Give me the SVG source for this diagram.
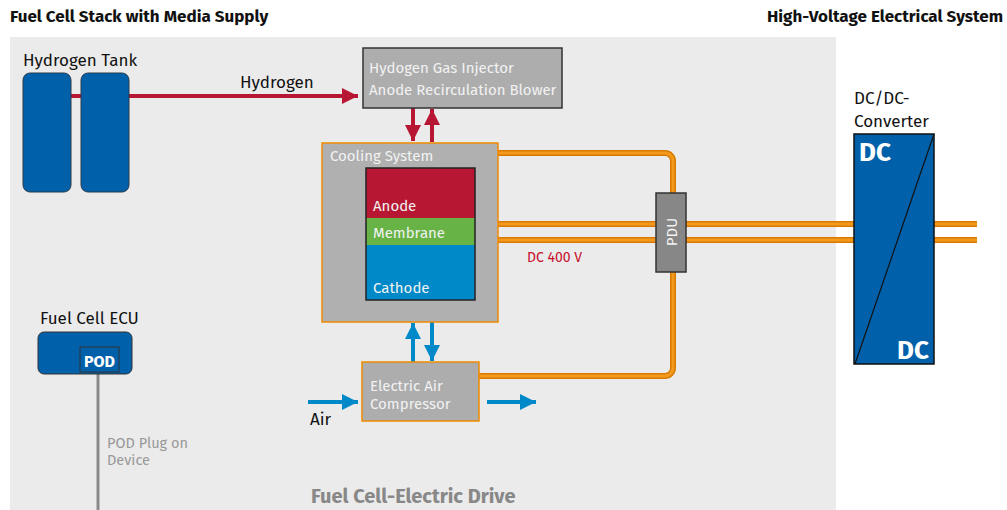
<svg xmlns="http://www.w3.org/2000/svg" width="1007" height="510" viewBox="0 0 1007 510">
<defs>
<style>
text{font-family:"Fira Sans","Open Sans","Noto Sans",sans-serif}
.t{font-size:17px;fill:#111}
.h{font-size:17px;font-weight:bold;fill:#111}
.w{font-size:15px;fill:#f2f2f2}
.pipeo{stroke:#d87a00;stroke-width:6;fill:none}
.pipei{stroke:#f39a1e;stroke-width:3;fill:none}
.red{stroke:#b81733;stroke-width:4;fill:none}
.blue{stroke:#0089c8;stroke-width:4;fill:none}
</style>
<marker id="ar" viewBox="0 0 10 10" refX="10" refY="5" markerWidth="4" markerHeight="4" markerUnits="strokeWidth" orient="auto"><path d="M0,0L10,5L0,10z" fill="#b81733"/></marker>
<marker id="ab" viewBox="0 0 10 10" refX="10" refY="5" markerWidth="4" markerHeight="4" markerUnits="strokeWidth" orient="auto"><path d="M0,0L10,5L0,10z" fill="#0089c8"/></marker>
</defs>
<rect width="1007" height="510" fill="#ffffff"/>
<rect x="10" y="37" width="826" height="473" fill="#ebebeb"/>
<text x="10" y="22" class="h">Fuel Cell Stack with Media Supply</text>
<text x="1003" y="22" class="h" text-anchor="end">High-Voltage Electrical System</text>
<text x="311" y="503" style="font-size:20px;font-weight:bold;fill:#888">Fuel Cell-Electric Drive</text>

<g id="connectors">
<path d="M129,96H358" class="red" marker-end="url(#ar)"/>
<path d="M71,96H81" class="red"/>
<line x1="413" y1="108" x2="413" y2="141" class="red" marker-end="url(#ar)"/>
<line x1="432" y1="142" x2="432" y2="109" class="red" marker-end="url(#ar)"/>
<line x1="413" y1="362" x2="413" y2="323" class="blue" marker-end="url(#ab)"/>
<line x1="432" y1="322" x2="432" y2="361" class="blue" marker-end="url(#ab)"/>
<line x1="308" y1="402" x2="358" y2="402" class="blue" marker-end="url(#ab)"/>
<line x1="487" y1="402" x2="536" y2="402" class="blue" marker-end="url(#ab)"/>
<path d="M498,153H665a8,8 0 0 1 8,8V368a8,8 0 0 1 -8,8H479" class="pipeo"/>
<path d="M498,153H665a8,8 0 0 1 8,8V368a8,8 0 0 1 -8,8H479" class="pipei"/>
<path d="M475,224H977M475,240H977" class="pipeo"/>
<path d="M475,224H977M475,240H977" class="pipei"/>
<line x1="98" y1="374" x2="98" y2="510" stroke="#8a8a8a" stroke-width="3"/>
</g>

<g id="tank">
<text x="23" y="66" class="t">Hydrogen Tank</text>
<rect x="23" y="73" width="48" height="119" rx="7" fill="#0060aa" stroke="#2a3a4a" stroke-width="1"/>
<rect x="81" y="73" width="48" height="119" rx="7" fill="#0060aa" stroke="#2a3a4a" stroke-width="1"/>
</g>
<text x="240" y="88" class="t">Hydrogen</text>

<g id="injector">
<rect x="363" y="48" width="199" height="60" fill="#adadad" stroke="#333" stroke-width="1.5"/>
<text x="369" y="73" class="w">Hydogen Gas Injector</text>
<text x="369" y="95" class="w">Anode Recirculation Blower</text>
</g>

<g id="cooling">
<rect x="322" y="143" width="176" height="179" fill="#b0b0b0" stroke="#f08a00" stroke-width="1.5"/>
<text x="330" y="161" class="w">Cooling System</text>
</g>

<g id="stack">
<rect x="366" y="168" width="109" height="50" fill="#b81733"/>
<rect x="366" y="218" width="109" height="27" fill="#67b346"/>
<rect x="366" y="245" width="109" height="55" fill="#0089c8"/>
<rect x="366" y="168" width="109" height="132" fill="none" stroke="#222" stroke-width="1.5"/>
<text x="373" y="211" class="w">Anode</text>
<text x="373" y="238" class="w">Membrane</text>
<text x="373" y="293" class="w">Cathode</text>
</g>

<g id="pdu">
<rect x="656" y="193" width="30" height="79" fill="#878787" stroke="#333" stroke-width="1.5"/>
<text transform="translate(677,232) rotate(-90)" text-anchor="middle" style="font-size:15px;fill:#f2f2f2">PDU</text>
</g>
<text x="527" y="262" style="font-size:14px;fill:#c8102e">DC 400 V</text>

<g id="dcdc">
<text x="854" y="104" class="t">DC/DC-</text>
<text x="854" y="127" class="t">Converter</text>
<rect x="854" y="134" width="80" height="230" fill="#0060aa" stroke="#111" stroke-width="1.5"/>
<line x1="855" y1="364" x2="934" y2="134" stroke="#111" stroke-width="1.2"/>
<text x="859" y="161" style="font-size:26px;font-weight:bold;fill:#fff">DC</text>
<text x="929" y="359" text-anchor="end" style="font-size:26px;font-weight:bold;fill:#fff">DC</text>
</g>

<g id="ecu">
<text x="40" y="324" class="t">Fuel Cell ECU</text>
<rect x="38" y="332" width="94" height="42" rx="6" fill="#0060aa" stroke="#333" stroke-width="1"/>
<rect x="80" y="347" width="39" height="25" fill="#0060aa" stroke="#333" stroke-width="1"/>
<text x="99.5" y="367" text-anchor="middle" style="font-size:16px;font-weight:bold;fill:#fff">POD</text>
</g>
<text x="107" y="448" style="font-size:14.5px;fill:#999">POD Plug on</text>
<text x="107" y="465" style="font-size:14.5px;fill:#999">Device</text>

<g id="compressor">
<rect x="362" y="362" width="117" height="59" fill="#adadad" stroke="#f08a00" stroke-width="1.5"/>
<text x="370" y="391" class="w">Electric Air</text>
<text x="370" y="409" class="w">Compressor</text>
</g>
<text x="310" y="425" class="t">Air</text>
</svg>
